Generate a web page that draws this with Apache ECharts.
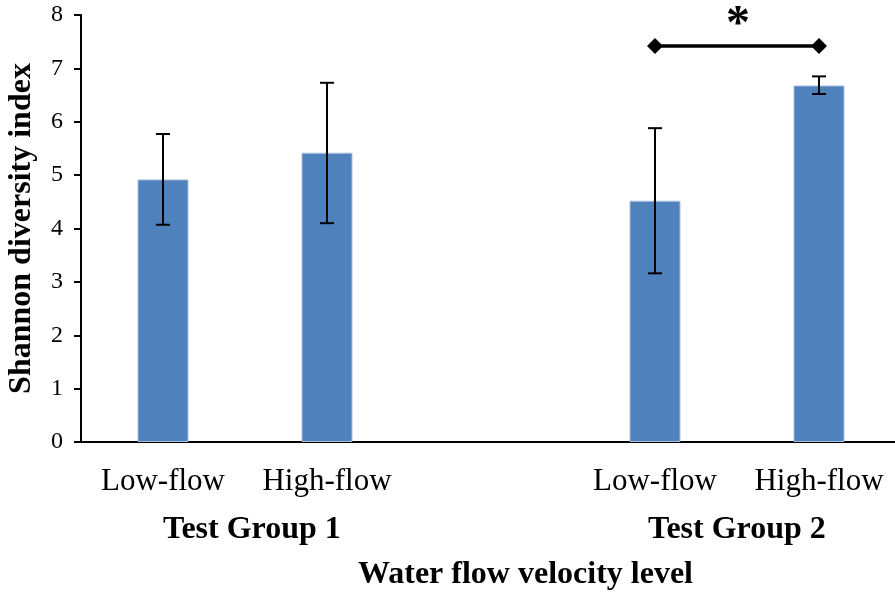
<!DOCTYPE html>
<html>
<head>
<meta charset="utf-8">
<script src="https://cdn.jsdelivr.net/npm/echarts@6/dist/echarts.min.js"></script>
<style>
  html, body { margin: 0; padding: 0; background: #fff; }
  #chart { width: 895px; height: 592px; }
</style>
</head>
<body>
<div id="chart"></div>
<script>
// data
var categories = ['Low-flow', 'High-flow', '', 'Low-flow', 'High-flow'];
var meanValues = [4.92, 5.42, null, 4.52, 6.68];
var errLow = [4.07, 4.10, null, 3.16, 6.52];
var errHigh = [5.77, 6.73, null, 5.88, 6.85];
var groupNames = ['Test Group 1', 'Test Group 2'];
var sigLevel = 7.42;
var sigPair = [3, 4];

var chart = echarts.init(document.getElementById('chart'));
var serif = '"Liberation Serif", "Times New Roman", serif';

var errData = [];
for (var i = 0; i < categories.length; i++) {
  if (meanValues[i] != null) errData.push([i, errLow[i], errHigh[i]]);
}

var option = {
  backgroundColor: '#fff',
  animation: false,
  grid: { left: 81, top: 15, width: 820, height: 427, outerBoundsMode: 'none', containLabel: false },
  xAxis: {
    type: 'category',
    data: categories,
    axisLine: { lineStyle: { color: '#000', width: 2 } },
    axisTick: { show: false },
    axisLabel: { color: '#000', fontFamily: serif, fontSize: 31, margin: 24, interval: 0, hideOverlap: false }
  },
  yAxis: {
    type: 'value',
    min: 0, max: 8, interval: 1,
    name: 'Shannon diversity index',
    nameLocation: 'middle',
    nameGap: 43,
    nameTextStyle: { color: '#000', fontFamily: serif, fontSize: 32, fontWeight: 'bold' },
    axisLine: { show: true, lineStyle: { color: '#000', width: 2 } },
    axisTick: { show: true, inside: false, length: 7, lineStyle: { color: '#000', width: 2 } },
    axisLabel: { color: '#000', fontFamily: serif, fontSize: 24, margin: 18 },
    splitLine: { show: false }
  },
  series: [
    {
      type: 'bar',
      data: meanValues,
      barWidth: 51,
      itemStyle: { color: '#4F81BD', borderColor: '#A9C0DE', borderWidth: 1 }
    },
    {
      type: 'custom',
      data: errData,
      z: 5,
      renderItem: function (params, api) {
        var x = api.value(0);
        var lo = api.coord([x, api.value(1)]);
        var hi = api.coord([x, api.value(2)]);
        var w = 7;
        var st = { stroke: '#000', lineWidth: 2 };
        return {
          type: 'group',
          children: [
            { type: 'line', shape: { x1: lo[0], y1: lo[1], x2: hi[0], y2: hi[1] }, style: st },
            { type: 'line', shape: { x1: lo[0] - w, y1: lo[1], x2: lo[0] + w, y2: lo[1] }, style: st },
            { type: 'line', shape: { x1: hi[0] - w, y1: hi[1], x2: hi[0] + w, y2: hi[1] }, style: st }
          ]
        };
      }
    },
    {
      type: 'line',
      data: [[sigPair[0], sigLevel], [sigPair[1], sigLevel]],
      symbol: 'diamond',
      symbolSize: 16,
      lineStyle: { color: '#000', width: 3.5 },
      itemStyle: { color: '#000' },
      z: 6
    }
  ],
  graphic: [
    { type: 'text', left: 726, top: 2, style: { text: '*', font: 'bold 48px ' + serif, fill: '#000' } },
    { type: 'text', left: 163, top: 514, style: { text: groupNames[0], font: 'bold 32px ' + serif, fill: '#000' } },
    { type: 'text', left: 648, top: 514, style: { text: groupNames[1], font: 'bold 32px ' + serif, fill: '#000' } },
    { type: 'text', left: 358, top: 559, style: { text: 'Water flow velocity level', font: 'bold 32px ' + serif, fill: '#000' } }
  ]
};

chart.setOption(option);
</script>
</body>
</html>
